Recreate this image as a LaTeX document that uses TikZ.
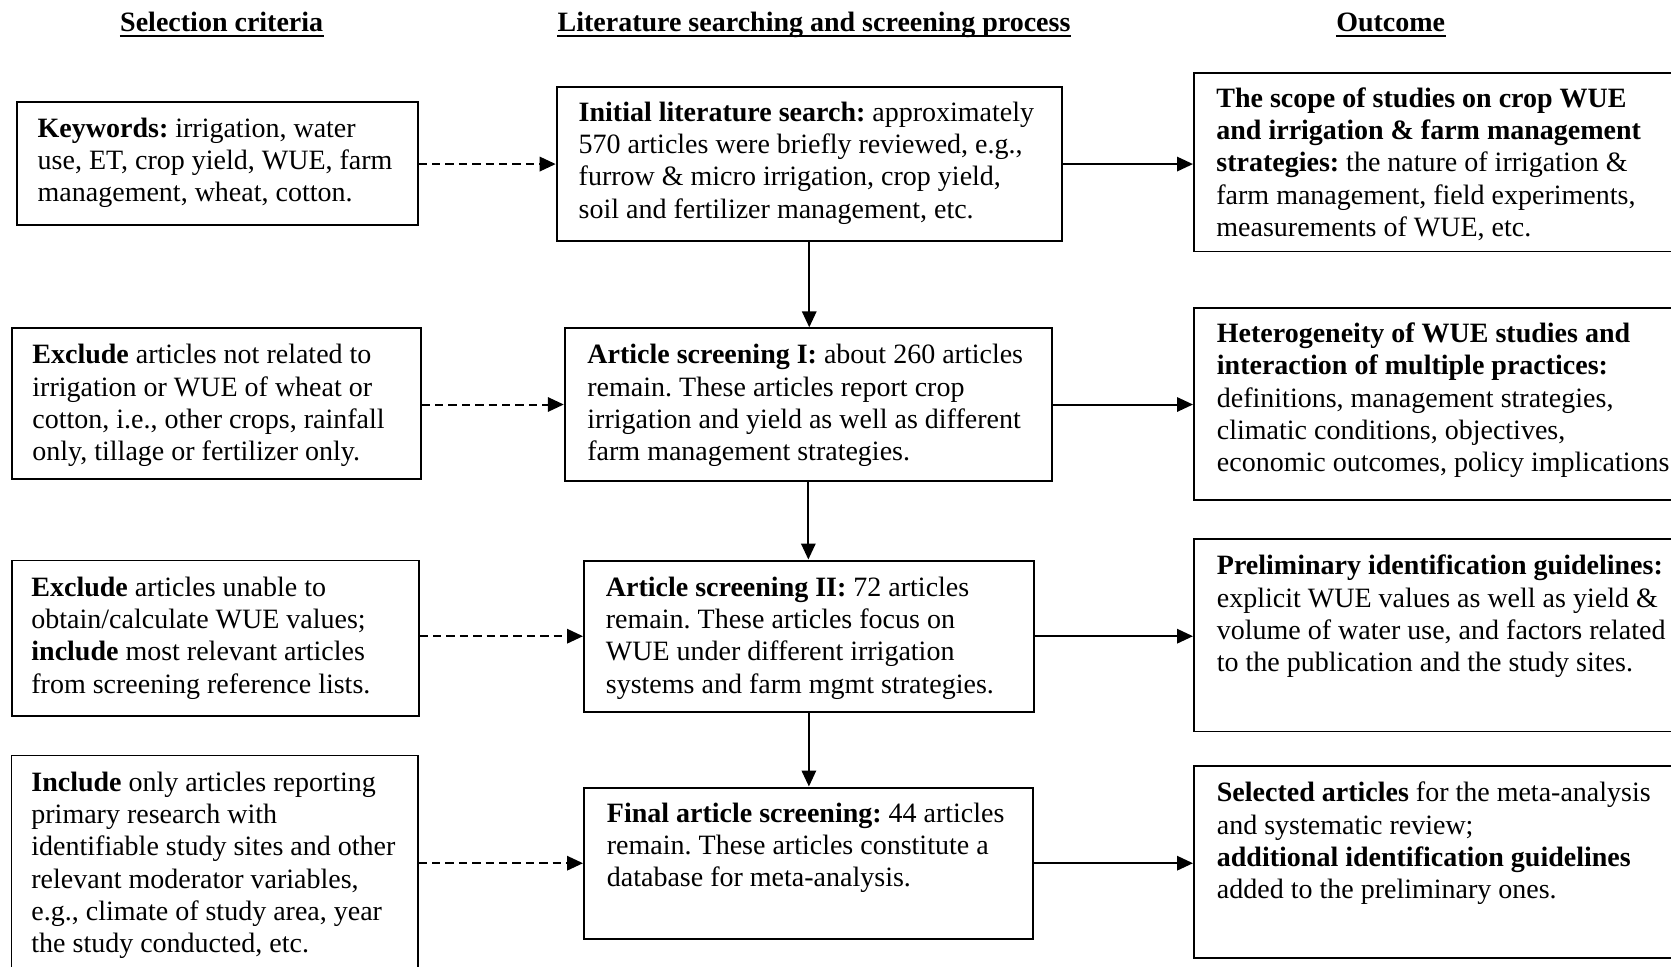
\documentclass[tikz,border=0pt]{standalone}
\usepackage{fontspec}
\setmainfont{Liberation Serif}
\frenchspacing
\usetikzlibrary{arrows.meta}
\tikzset{
  box/.style={draw, line width=0.8pt, inner sep=0pt, anchor=north west},
  midbox/.style={box, line width=1.05pt},
  txt/.style={anchor=north west, inner sep=0pt, align=left, font=\fontsize{14}{16.15}\selectfont},
  hdr/.style={anchor=base, inner sep=0pt, font=\fontsize{14}{16.15}\selectfont\bfseries},
  uline/.style={line width=1.1pt},
  conn/.style={line width=1pt, -{Triangle[length=8pt,width=7.2pt]}},
  dconn/.style={conn, dash pattern=on 4.2pt off 2.5pt}
}
\begin{document}
\begin{tikzpicture}[x=0.5pt, y=-0.5pt]
\clip (0,0) rectangle (1671,966);
\fill[white] (0,0) rectangle (1671,966);
% headers
\node[hdr] (h1) at (221.7,31.5) {Selection criteria};
\node[hdr] (h2) at (814,31.5) {Literature searching and screening process};
\node[hdr] (h3) at (1390.7,31.5) {Outcome};
\draw[uline] ([yshift=-2.2pt]h1.base west) -- ([yshift=-2.2pt]h1.base east);
\draw[uline] ([yshift=-2.2pt]h2.base west) -- ([yshift=-2.2pt]h2.base east);
\draw[uline] ([yshift=-2.2pt]h3.base west) -- ([yshift=-2.2pt]h3.base east);
% left boxes
\node[box, minimum width=200.5pt, minimum height=61.35pt] (L1) at (16,101.3) {};
\node[box, minimum width=204.5pt, minimum height=75.5pt] (L2) at (11,327) {};
\node[box, minimum width=203.5pt, minimum height=77.75pt] (L3) at (11,559.5) {};
\node[box, minimum width=203.25pt, minimum height=122.75pt] (L4) at (10.5,754.5) {};
% middle boxes
\node[midbox, minimum width=252.5pt, minimum height=77pt] (M1) at (555.7,86) {};
\node[midbox, minimum width=243.5pt, minimum height=76.15pt] (M2) at (563.8,327.3) {};
\node[midbox, minimum width=224.85pt, minimum height=75.65pt] (M3) at (583,559.5) {};
\node[midbox, minimum width=224.3pt, minimum height=75.65pt] (M4) at (583,786.5) {};
% right boxes
\node[box, minimum width=253.5pt, minimum height=89.35pt] (R1) at (1193,72) {};
\node[box, minimum width=253.5pt, minimum height=96pt] (R2) at (1193,307.3) {};
\node[box, minimum width=253.5pt, minimum height=96.2pt] (R3) at (1193,538.3) {};
\node[box, minimum width=253.5pt, minimum height=96.15pt] (R4) at (1193,765) {};
% texts
\node[txt] (tL1) at (37.3,114.1) {\strut\textbf{Keywords:} irrigation, water\\use, ET, crop yield, WUE, farm\\management, wheat, cotton.};
\node[txt] (tL2) at (32,340.8) {\strut\textbf{Exclude} articles not related to\\irrigation or WUE of wheat or\\cotton, i.e., other crops, rainfall\\only, tillage or fertilizer only.};
\node[txt] (tL3) at (31,573.1) {\strut\textbf{Exclude} articles unable to\\obtain/calculate WUE values;\\\textbf{include} most relevant articles\\from screening reference lists.};
\node[txt] (tL4) at (31,768.1) {\strut\textbf{Include} only articles reporting\\primary research with\\identifiable study sites and other\\relevant moderator variables,\\e.g., climate of study area, year\\the study conducted, etc.};
\node[txt] (tM1) at (578.3,98.1) {\strut\textbf{Initial literature search:} approximately\\570 articles were briefly reviewed, e.g.,\\furrow \& micro irrigation, crop yield,\\soil and fertilizer management, etc.};
\node[txt] (tM2) at (587,340.8) {\strut\textbf{Article screening I:} about 260 articles\\remain. These articles report crop\\irrigation and yield as well as different\\farm management strategies.};
\node[txt] (tM3) at (605.5,573.1) {\strut\textbf{Article screening II:} 72 articles\\remain. These articles focus on\\WUE under different irrigation\\systems and farm mgmt strategies.};
\node[txt] (tM4) at (606.5,799) {\strut\textbf{Final article screening:} 44 articles\\remain. These articles constitute a\\database for meta-analysis.};
\node[txt] (tR1) at (1216,84.1) {\strut\textbf{The scope of studies on crop WUE}\\\textbf{and irrigation \& farm management}\\\textbf{strategies:} the nature of irrigation \&\\farm management, field experiments,\\measurements of WUE, etc.};
\node[txt] (tR2) at (1216.5,319.5) {\strut\textbf{Heterogeneity of WUE studies and}\\\textbf{interaction of multiple practices:}\\definitions, management strategies,\\climatic conditions, objectives,\\economic outcomes, policy implications};
\node[txt] (tR3) at (1216.5,551.8) {\strut\textbf{Preliminary identification guidelines:}\\explicit WUE values as well as yield \&\\volume of water use, and factors related\\to the publication and the study sites.};
\node[txt] (tR4) at (1216.5,778.8) {\strut\textbf{Selected articles} for the meta-analysis\\and systematic review;\\\textbf{additional identification guidelines}\\added to the preliminary ones.};
% dashed connectors (criteria -> process)
\draw[dconn] (L1.east |- M1.west) -- (M1.west);
\draw[dconn] (L2.east |- M2.west) -- (M2.west);
\draw[dconn] (L3.east |- M3.west) -- (M3.west);
\draw[dconn] (L4.east |- M4.west) -- (M4.west);
% solid connectors (process -> outcome)
\draw[conn] (M1.east) -- (M1.east -| R1.west);
\draw[conn] (M2.east) -- (M2.east -| R2.west);
\draw[conn] (M3.east) -- (M3.east -| R3.west);
\draw[conn] (M4.east) -- (M4.east -| R4.west);
% vertical flow
\draw[conn] (M1.south) -- (M1.south |- M2.north);
\draw[conn] (M2.south) -- (M2.south |- M3.north);
\draw[conn] (M3.south) -- (M3.south |- M4.north);
\end{tikzpicture}
\end{document}
